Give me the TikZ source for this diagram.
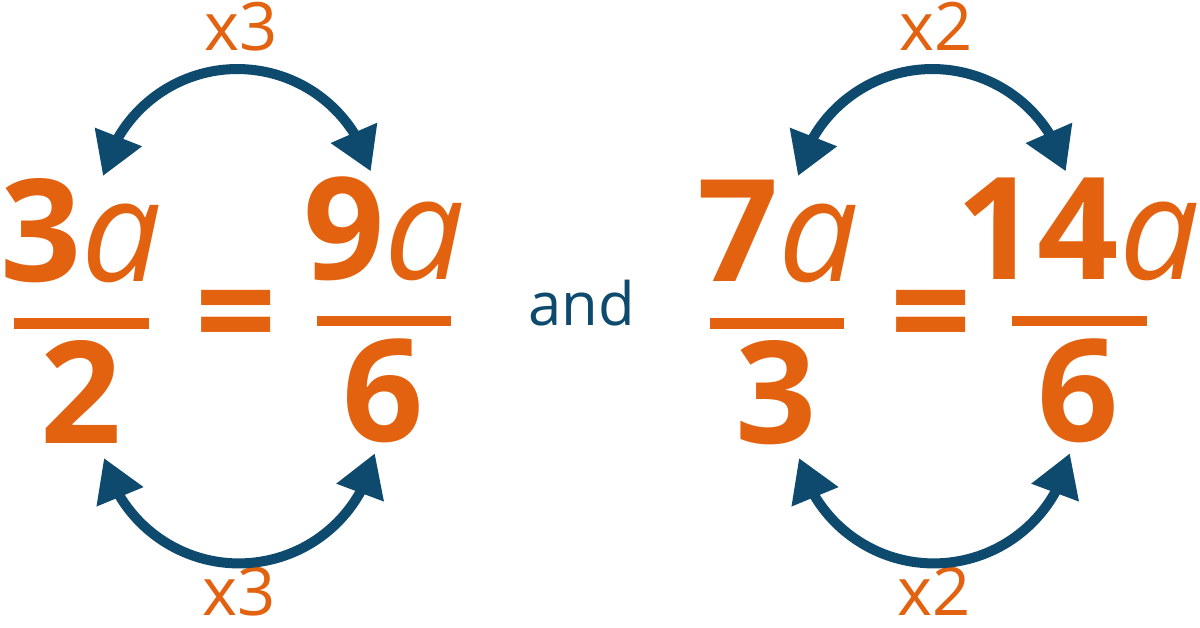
\documentclass[tikz,border=0pt]{standalone}
\usepackage{fontspec}
\setmainfont{Open Sans}
\usetikzlibrary{arrows.meta, bending}
\definecolor{fracorange}{HTML}{E3620F}
\definecolor{arcblue}{HTML}{0E4A6D}
\newcommand{\avar}{{\mdseries\itshape a}}

\begin{document}
\begin{tikzpicture}[x=0.02cm, y=-0.02cm,
    num/.style={anchor=base, inner sep=0pt, text=fracorange, font=\fontsize{81}{81}\selectfont\bfseries},
    fracbar/.style={fill=fracorange, inner sep=0pt, minimum width=2.7cm, minimum height=0.21cm},
    factor/.style={anchor=base, inner sep=0pt, text=fracorange, font=\fontsize{38}{38}\selectfont},
    mularrow/.style={draw=arcblue, line width=0.2cm, {Triangle[length=0.84cm, width=0.96cm]}-{Triangle[length=0.84cm, width=0.96cm]}}]
    \useasboundingbox (0,0) rectangle (1200,627);

    % first pair
    \node[num] (n1) at (81,281) {3\avar};
    \node[fracbar] (b1) at (81.5,323.5) {};
    \node[num] (d1) at (81,443) {2};
    \node[num] (e1) at (236,361) {=};
    \node[num] (n2) at (384,279) {9\avar};
    \node[fracbar] (b2) at (384,321) {};
    \node[num] (d2) at (383,441) {6};
    \node[factor] (f1) at (241,50) {x3};
    \node[factor] (f2) at (239,615) {x3};

    \coordinate (top1) at (103,176);
    \coordinate (bot1) at (104,458);
    \draw[mularrow] (top1) arc[start angle=-167, end angle=-15, radius=138];
    \draw[mularrow] (bot1) arc[start angle=166, end angle=12, radius=139];

    \node[anchor=base, inner sep=0pt, text=arcblue, font=\fontsize{34}{34}\selectfont] (and) at (582,325) {and};

    % second pair
    \node[num] (n3) at (778,281) {7\avar};
    \node[fracbar] (b3) at (777,323.5) {};
    \node[num] (d3) at (776,443) {3};
    \node[num] (e2) at (931.5,361) {=};
    \node[num] (n4) at (1078,279) {14\avar};
    \node[fracbar] (b4) at (1079,321) {};
    \node[num] (d4) at (1078.5,441) {6};
    \node[factor] (f3) at (936,50) {x2};
    \node[factor] (f4) at (934,615) {x2};

    \coordinate (top2) at (798,176);
    \coordinate (bot2) at (799,458);
    \draw[mularrow] (top2) arc[start angle=-167, end angle=-15, radius=138];
    \draw[mularrow] (bot2) arc[start angle=166, end angle=12, radius=139];
\end{tikzpicture}
\end{document}
